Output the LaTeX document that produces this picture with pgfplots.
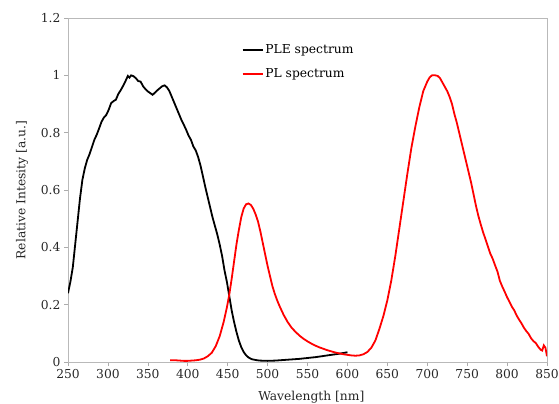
\documentclass[border=0pt]{standalone}
\usepackage{fontspec}
\setmainfont{DejaVu Serif}
\usepackage{pgfplots}
\pgfplotsset{compat=1.18}
\usetikzlibrary{calc}

\newcommand{\chartfont}{\fontsize{12.3bp}{14bp}\selectfont}

% Excitation spectrum (PLE)
\pgfplotstableread{
x y
250 0.240
253 0.280
256 0.330
259 0.410
262 0.490
265 0.570
268 0.635
271 0.675
274 0.705
277 0.725
280 0.750
283 0.775
286 0.793
289 0.815
292 0.838
295 0.853
298 0.862
301 0.880
304 0.903
307 0.910
310 0.915
313 0.935
316 0.948
319 0.963
322 0.980
325 0.998
327 0.992
329 1.000
332 0.997
335 0.990
338 0.980
341 0.978
344 0.962
347 0.952
350 0.944
353 0.938
356 0.932
359 0.940
362 0.948
365 0.955
368 0.962
371 0.965
374 0.958
377 0.945
380 0.925
383 0.905
386 0.885
389 0.865
392 0.845
395 0.828
398 0.810
401 0.790
404 0.775
407 0.752
410 0.738
413 0.715
416 0.685
419 0.648
422 0.610
425 0.575
428 0.540
431 0.505
434 0.475
437 0.445
440 0.410
443 0.370
446 0.320
449 0.280
452 0.230
455 0.180
458 0.140
461 0.105
464 0.075
467 0.052
470 0.035
473 0.024
476 0.016
480 0.010
485 0.007
490 0.005
500 0.004
510 0.005
520 0.007
530 0.009
540 0.011
550 0.014
560 0.017
570 0.021
580 0.025
590 0.029
600 0.034
}\pletable

% Emission spectrum (PL)
\pgfplotstableread{
x y
378 0.006
385 0.006
390 0.005
395 0.004
400 0.004
405 0.005
410 0.006
415 0.008
420 0.012
425 0.020
430 0.032
435 0.055
440 0.090
445 0.140
449 0.190
452 0.235
455 0.290
458 0.350
461 0.410
464 0.460
467 0.505
470 0.535
473 0.550
476 0.553
479 0.548
482 0.535
485 0.515
488 0.490
491 0.455
494 0.415
497 0.375
500 0.335
503 0.300
506 0.265
509 0.238
512 0.215
515 0.195
520 0.165
525 0.140
530 0.120
535 0.105
540 0.092
545 0.081
550 0.072
555 0.064
560 0.057
565 0.051
570 0.046
575 0.041
580 0.037
585 0.033
590 0.030
595 0.027
600 0.025
605 0.023
610 0.022
615 0.023
620 0.027
625 0.035
630 0.050
635 0.075
640 0.115
645 0.160
650 0.215
655 0.285
660 0.370
665 0.465
670 0.560
675 0.655
680 0.745
685 0.820
690 0.888
695 0.945
700 0.978
703 0.993
706 1.000
710 1.000
713 0.998
716 0.990
719 0.975
722 0.960
725 0.945
728 0.925
731 0.900
734 0.865
737 0.835
740 0.800
743 0.765
746 0.730
749 0.695
752 0.660
755 0.625
758 0.585
761 0.545
764 0.510
767 0.480
770 0.452
773 0.428
776 0.403
779 0.378
782 0.360
785 0.337
788 0.315
791 0.283
794 0.263
797 0.245
800 0.226
803 0.210
806 0.193
809 0.180
812 0.162
815 0.148
818 0.135
821 0.120
824 0.108
827 0.098
830 0.083
833 0.073
836 0.066
839 0.053
842 0.043
844 0.040
846 0.058
848 0.050
850 0.020
}\pltable

\begin{document}
\begin{tikzpicture}
\begin{axis}[
  scale only axis,
  width=479bp, height=344bp,
  xmin=250, xmax=850, ymin=0, ymax=1.2,
  xtick={250,300,...,850},
  ytick={0,0.2,...,1.2},
  axis line style={draw=gray!55, line width=0.8bp},
  tick style={draw=gray!65, line width=0.6bp},
  major tick length=4bp,
  tick align=outside,
  xtick pos=left, ytick pos=left,
  /pgf/number format/.cd, fixed, assume math mode=true,
  /pgfplots/.cd,
  tick label style={font=\chartfont, text=black!85},
  label style={font=\chartfont, text=black!85},
  xlabel={Wavelength [nm]},
  ylabel={Relative Intesity [a.u.]},
  xlabel style={at={(axis description cs:0.508,-0.102)}, anchor=center},
  ylabel style={at={(axis description cs:-0.096,0.5)}, anchor=center, rotate=0},
  legend style={at={(axis description cs:0.362,0.928)}, anchor=north west,
    draw=none, fill=none, font=\chartfont, row sep=9bp, inner sep=0pt},
  legend cell align=left,
  legend image code/.code={\draw[#1] (0bp,0bp) -- (20bp,0bp);},
]
\addplot[black, line width=1.8bp] table[x=x, y=y] {\pletable};
\addlegendentry{PLE spectrum}
\addplot[red, line width=1.8bp] table[x=x, y=y] {\pltable};
\addlegendentry{PL spectrum}
\end{axis}
\pgfresetboundingbox
\path[use as bounding box]
  ($(current axis.south west)+(-68bp,-41bp)$) rectangle
  ($(current axis.north east)+(12bp,18bp)$);
\end{tikzpicture}
\end{document}
